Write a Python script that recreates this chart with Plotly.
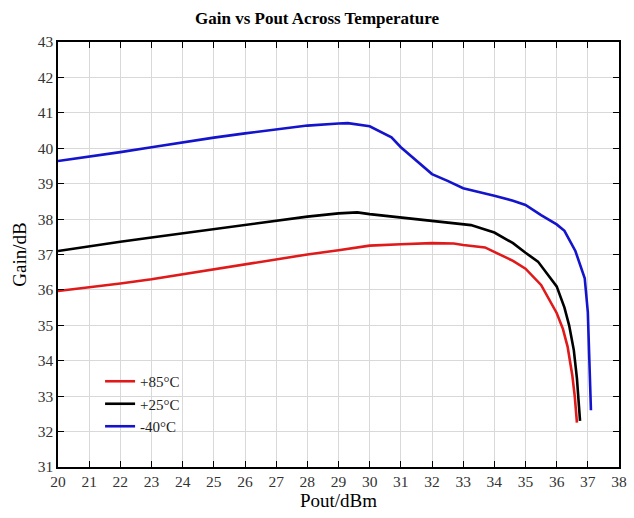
import plotly.graph_objects as go

pout_85 = [20, 21, 22, 23, 24, 25, 26, 27, 28, 29, 29.6, 30, 31, 32, 32.7, 33, 33.7, 34.2, 34.6, 35.0, 35.5, 36.0, 36.2, 36.35, 36.5, 36.58, 36.65]
gain_85 = [35.97, 36.07, 36.18, 36.3, 36.44, 36.58, 36.72, 36.88, 37.0, 37.12, 37.2, 37.25, 37.29, 37.32, 37.31, 37.27, 37.2, 37.0, 36.82, 36.6, 36.14, 35.35, 34.9, 34.4, 33.6, 33.0, 32.25]

pout_25 = [20, 21, 22, 23, 24, 25, 26, 27, 28, 29, 29.6, 30, 31, 32, 33, 33.25, 34, 34.6, 35.0, 35.4, 36.0, 36.25, 36.4, 36.55, 36.65, 36.75]
gain_25 = [37.1, 37.24, 37.36, 37.48, 37.6, 37.72, 37.83, 37.95, 38.07, 38.16, 38.19, 38.14, 38.05, 37.95, 37.86, 37.83, 37.62, 37.32, 37.05, 36.8, 36.1, 35.5, 35.0, 34.3, 33.5, 32.3]

pout_m40 = [20, 21, 22, 23, 24, 25, 26, 27, 28, 29, 29.3, 30, 30.7, 31, 31.55, 32, 32.5, 33, 34, 34.6, 35.0, 35.5, 36.0, 36.25, 36.6, 36.9, 37.0, 37.06, 37.1]
gain_m40 = [39.64, 39.76, 39.89, 40.03, 40.17, 40.3, 40.42, 40.54, 40.64, 40.7, 40.71, 40.62, 40.31, 40.03, 39.6, 39.27, 39.08, 38.87, 38.66, 38.52, 38.4, 38.11, 37.85, 37.67, 37.1, 36.33, 35.37, 33.76, 32.6]

x_ticks = list(range(20, 39))
y_ticks = list(range(31, 44))

font_serif = "Liberation Serif, Times New Roman, serif"

fig = go.Figure()
fig.add_trace(go.Scatter(x=pout_85, y=gain_85, mode="lines", name="+85°C",
                         line=dict(color="#e01a1a", width=2.6)))
fig.add_trace(go.Scatter(x=pout_25, y=gain_25, mode="lines", name="+25°C",
                         line=dict(color="#000000", width=2.6)))
fig.add_trace(go.Scatter(x=pout_m40, y=gain_m40, mode="lines", name="-40°C",
                         line=dict(color="#1414cc", width=2.6)))

axis_common = dict(
    showline=True, linecolor="black", linewidth=1.5, mirror="ticks",
    ticks="inside", ticklen=6, tickcolor="black", tickwidth=1.2,
    showgrid=True, gridcolor="#d9d9d9", gridwidth=1, zeroline=False,
    tickfont=dict(family=font_serif, size=15.5, color="#333"),
)

fig.update_layout(
    width=634, height=518,
    margin=dict(l=58, r=7, t=42, b=51),
    paper_bgcolor="white", plot_bgcolor="white",
    title=dict(text="<b>Gain vs Pout Across Temperature</b>", x=0.5, xanchor="center",
               y=0.965, yanchor="middle",
               font=dict(family=font_serif, size=17, color="black")),
    xaxis=dict(range=[20, 38], tickvals=x_ticks, **axis_common,
               title=dict(text="Pout/dBm", font=dict(family=font_serif, size=19, color="black"), standoff=4)),
    yaxis=dict(range=[31, 43], tickvals=y_ticks, **axis_common,
               title=dict(text="Gain/dB", font=dict(family=font_serif, size=19, color="black"), standoff=6)),
    legend=dict(x=0.075, y=0.24, xanchor="left", yanchor="top",
                bgcolor="rgba(0,0,0,0)", font=dict(family=font_serif, size=15, color="#222"),
                tracegroupgap=0, itemwidth=30),
    showlegend=True,
)

fig.write_html("out.html")
